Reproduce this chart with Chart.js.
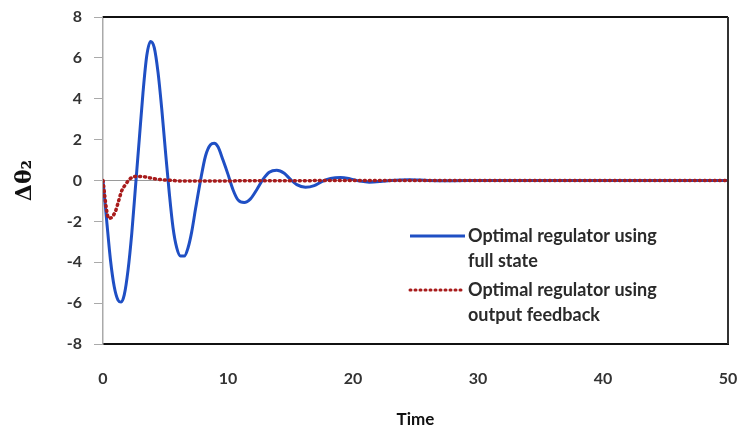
<!DOCTYPE html>
<html lang="en">
<head>
    <meta charset="UTF-8">
    <title>Delta theta 2 response</title>
    <script src="https://cdn.jsdelivr.net/npm/chart.js"></script>
    <style>
        html, body { margin: 0; padding: 0; background: #fff; }
        #wrap { width: 741px; height: 437px; }
    </style>
</head>
<body>
    <div id="wrap"><canvas id="respChart" width="741" height="437"></canvas></div>

    <script>
        // time samples and values
        const timeFull = [0, 0.3, 0.6, 0.9, 1.2, 1.45, 1.7, 2.0, 2.3, 2.6, 2.9, 3.2, 3.5, 3.8, 4.1, 4.4, 4.7, 5.0, 5.3, 5.6, 5.9, 6.2, 6.5, 6.8, 7.1, 7.4, 7.8, 8.2, 8.6, 8.9, 9.2, 9.6, 10.0, 10.4, 10.8, 11.3, 11.8, 12.3, 12.8, 13.3, 13.9, 14.5, 15.0, 15.5, 16.2, 16.9, 17.5, 18.2, 19.0, 19.8, 20.5, 21.3, 22.2, 23.0, 24.5, 26, 28, 30, 35, 40, 45, 50];
        const valuesFull = [0, -2.0, -3.9, -5.2, -5.85, -5.95, -5.6, -4.4, -2.6, -0.3, 2.0, 4.3, 6.1, 6.8, 6.5, 5.3, 3.5, 1.4, -0.6, -2.3, -3.3, -3.7, -3.7, -3.3, -2.5, -1.4, 0, 1.2, 1.75, 1.82, 1.65, 1.0, 0.3, -0.45, -0.95, -1.08, -0.9, -0.45, 0.05, 0.4, 0.5, 0.35, 0.05, -0.2, -0.33, -0.25, -0.05, 0.1, 0.15, 0.08, -0.02, -0.08, -0.05, 0, 0.04, 0, -0.01, 0, 0, 0, 0, 0];

        const timeOutput = [0, 0.15, 0.3, 0.45, 0.7, 1.0, 1.25, 1.5, 1.8, 2.1, 2.4, 2.8, 3.3, 3.8, 4.4, 5.0, 5.6, 6.5, 8, 10, 15, 20, 30, 40, 50];
        const valuesOutput = [0, -0.8, -1.5, -1.85, -1.8, -1.5, -1.0, -0.5, -0.2, 0.05, 0.17, 0.2, 0.18, 0.12, 0.06, 0.02, 0, -0.03, -0.03, -0.02, -0.01, 0, 0, 0, 0];

        const legendLabels = [
            ['Optimal regulator using', 'full state'],
            ['Optimal regulator using', 'output feedback']
        ];

        const blue = '#1f4fc4';
        const red = '#a81c1c';

        // frame (top + right border) and the text legend inside the plot
        const framePlugin = {
            id: 'frame',
            afterDraw(chart) {
                const { ctx, chartArea: a } = chart;
                ctx.save();
                ctx.strokeStyle = '#111';
                ctx.lineWidth = 2;
                ctx.beginPath();
                ctx.moveTo(a.left, a.top);
                ctx.lineTo(a.right, a.top);
                ctx.stroke();
                ctx.strokeStyle = '#333';
                ctx.beginPath();
                ctx.moveTo(a.right, a.top);
                ctx.lineTo(a.right, a.bottom);
                ctx.stroke();

                // legend
                const lx0 = 410, lx1 = 465, tx = 468;
                const rows = [236, 290];
                ctx.font = 'bold 18px Lato';
                ctx.fillStyle = '#2a2a2a';
                ctx.textBaseline = 'middle';
                rows.forEach((y, i) => {
                    ctx.beginPath();
                    ctx.lineWidth = 3;
                    ctx.strokeStyle = i === 0 ? blue : red;
                    ctx.setLineDash(i === 0 ? [] : [1, 4]);
                    ctx.lineCap = i === 0 ? 'butt' : 'round';
                    ctx.moveTo(lx0, y);
                    ctx.lineTo(lx1, y);
                    ctx.stroke();
                    ctx.setLineDash([]);
                    ctx.fillText(legendLabels[i][0], tx, y);
                    ctx.fillText(legendLabels[i][1], tx, y + 25);
                });
                ctx.restore();
            }
        };

        const ctx = document.getElementById('respChart').getContext('2d');
        new Chart(ctx, {
            type: 'line',
            data: {
                datasets: [
                    {
                        label: 'Optimal regulator using full state',
                        data: timeFull.map((t, i) => ({ x: t, y: valuesFull[i] })),
                        borderColor: blue,
                        borderWidth: 3,
                        pointRadius: 0,
                        cubicInterpolationMode: 'monotone',
                        order: 1
                    },
                    {
                        label: 'Optimal regulator using output feedback',
                        data: timeOutput.map((t, i) => ({ x: t, y: valuesOutput[i] })),
                        borderColor: red,
                        borderWidth: 3.5,
                        borderDash: [1, 4],
                        borderCapStyle: 'round',
                        pointRadius: 0,
                        cubicInterpolationMode: 'monotone',
                        order: 0
                    }
                ]
            },
            options: {
                responsive: false,
                animation: false,
                layout: { padding: { top: 17, right: 13, left: 0, bottom: 0 } },
                scales: {
                    x: {
                        type: 'linear',
                        min: 0,
                        max: 50,
                        afterFit: (s) => { s.height = 93; s.paddingLeft = 0; s.paddingRight = 0; },
                        ticks: {
                            stepSize: 10,
                            padding: 25,
                            color: '#333',
                            font: { family: 'Lato', size: 16, weight: 'bold' }
                        },
                        grid: { display: false, drawTicks: false },
                        border: { color: '#111', width: 2 },
                        title: {
                            display: true,
                            text: 'Time',
                            color: '#111',
                            font: { family: 'Lato', size: 17, weight: 'bold' },
                            padding: { top: 0, bottom: 7 }
                        }
                    },
                    y: {
                        min: -8,
                        max: 8,
                        afterFit: (s) => { s.width = 103; s.paddingTop = 0; s.paddingBottom = 0; },
                        ticks: {
                            stepSize: 2,
                            padding: 12,
                            color: '#333',
                            font: { family: 'Lato', size: 16, weight: 'bold' }
                        },
                        grid: {
                            color: (c) => (c.tick && c.tick.value === 0 ? '#9a9a9a' : 'rgba(0,0,0,0)'),
                            tickColor: '#aaa',
                            tickLength: 9,
                            lineWidth: 1
                        },
                        border: { color: '#aaa', width: 1.5 },
                        title: {
                            display: true,
                            text: 'Δθ₂',
                            color: '#111',
                            font: { family: 'DejaVu Serif', size: 22, weight: 'bold' },
                            padding: { top: 12, bottom: 0 }
                        }
                    }
                },
                plugins: {
                    legend: { display: false },
                    tooltip: { enabled: false }
                }
            },
            plugins: [framePlugin]
        });
    </script>
</body>
</html>
